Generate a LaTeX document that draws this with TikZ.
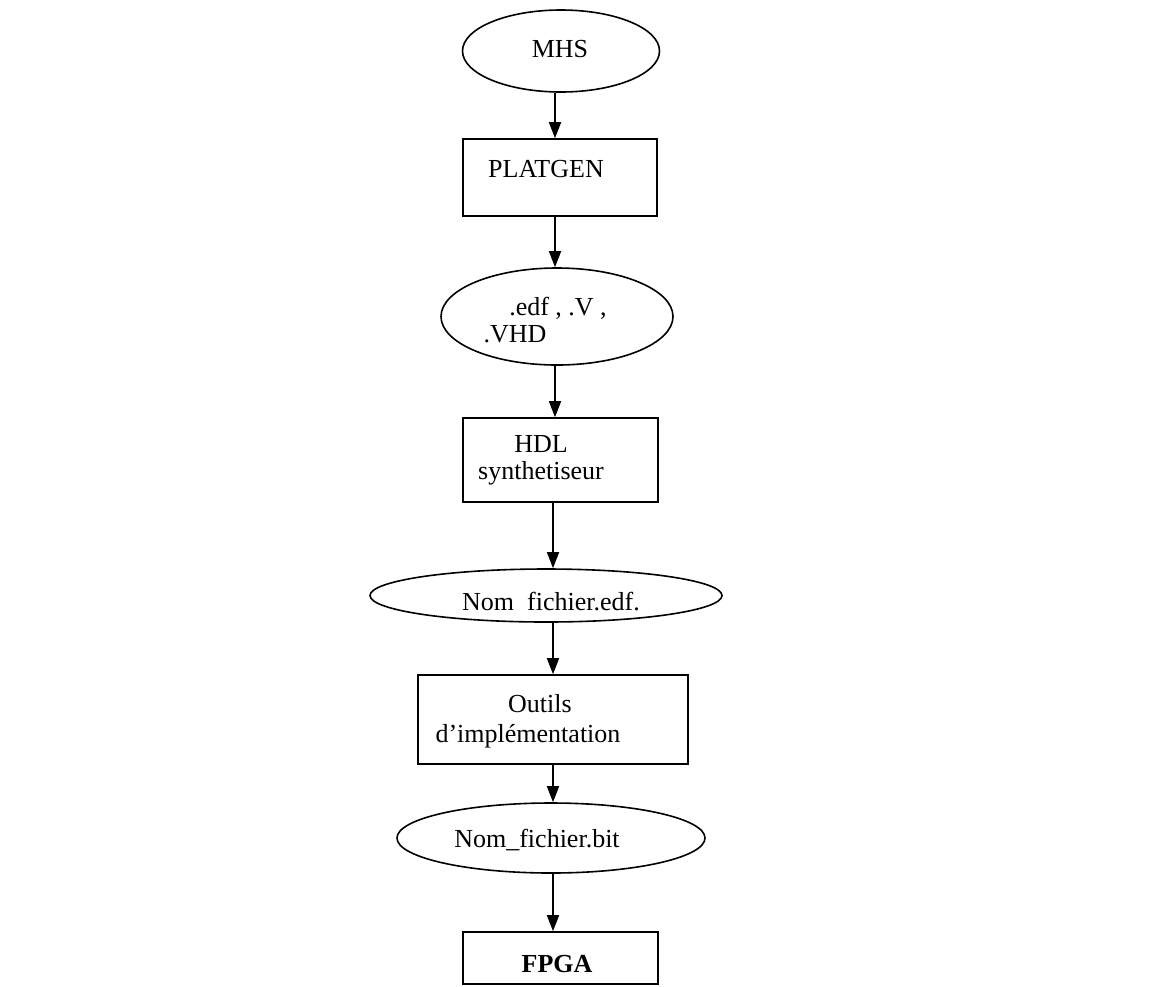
\documentclass[tikz,border=0pt]{standalone}
\usepackage{fontspec}
\setmainfont{Liberation Serif}
\usetikzlibrary{shapes.geometric,arrows.meta}
\begin{document}
\begin{tikzpicture}[x=1pt,y=-1pt,line width=1.6pt,
  el/.style={draw,ellipse,inner sep=0pt},
  bx/.style={draw,rectangle,inner sep=0pt},
  lbl/.style={font=\fontsize{26}{30}\selectfont,inner sep=0pt,anchor=base},
  arr/.style={-{Triangle[length=16pt,width=12pt]}}]
\useasboundingbox (0,0) rectangle (1155,986);
\fill[white] (0,0) rectangle (1155,986);
\coordinate (xa) at (555,0);
\coordinate (xb) at (553,0);
% shapes
\node[el,minimum width=197pt,minimum height=82pt] (mhs) at (561,51) {};
\node[bx,minimum width=194pt,minimum height=77pt] (platgen) at (560,177.5) {};
\node[el,minimum width=232pt,minimum height=97pt] (edf) at (557,316.5) {};
\node[bx,minimum width=195pt,minimum height=84pt] (hdl) at (560.5,460) {};
\node[el,minimum width=352pt,minimum height=53pt] (nomedf) at (546,595.5) {};
\node[bx,minimum width=270pt,minimum height=89pt] (outils) at (553,719.5) {};
\node[el,minimum width=308pt,minimum height=70pt] (nombit) at (551,838) {};
\node[bx,minimum width=195pt,minimum height=52pt] (fpga) at (560.5,958) {};
% texts
\node[lbl] (tmhs) at (560,57) {MHS};
\node[lbl] (tplat) at (546,177) {PLATGEN};
\node[lbl] (tedfa) at (558,315) {.edf , .V ,};
\node[lbl] (tedfb) at (515,342) {.VHD};
\node[lbl] (thdla) at (541,452) {HDL};
\node[lbl] (thdlb) at (541,479) {synthetiseur};
\node[lbl] (tnomedf) at (551,610) {Nom\ \ fichier.edf.};
\node[lbl] (touta) at (540,712) {Outils};
\node[lbl] (toutb) at (528,742) {d’implémentation};
\node[lbl] (tnombit) at (537,847) {Nom\_fichier.bit};
\node[lbl,font=\fontsize{26}{30}\selectfont\bfseries] (tfpga) at (557,972) {FPGA};
% connectors
\draw[arr] (mhs.south -| xa) -- (platgen.north -| xa);
\draw[arr] (platgen.south -| xa) -- (edf.north -| xa);
\draw[arr] (edf.south -| xa) -- (hdl.north -| xa);
\draw[arr] (hdl.south -| xb) -- (nomedf.north -| xb);
\draw[arr] (nomedf.south -| xb) -- (outils.north -| xb);
\draw[arr] (outils.south -| xb) -- (nombit.north -| xb);
\draw[arr] (nombit.south -| xb) -- (fpga.north -| xb);
\end{tikzpicture}
\end{document}
